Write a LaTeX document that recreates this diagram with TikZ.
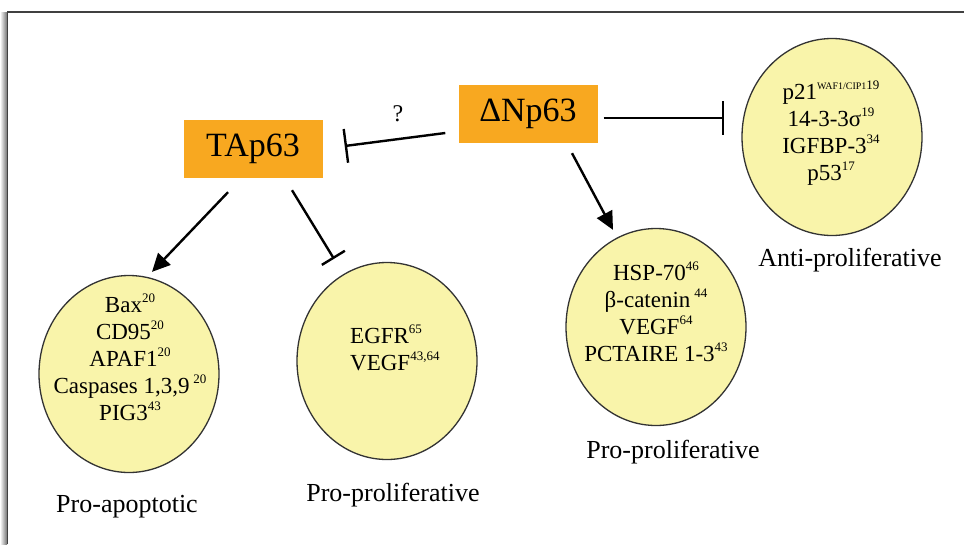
\documentclass[tikz,border=0pt]{standalone}
\usepackage{fontspec}
\setmainfont{Liberation Serif}
\usetikzlibrary{
    positioning,
    shapes.geometric,
    arrows.meta
    }
\definecolor{boxorange}{RGB}{248,168,32}
\definecolor{setyellow}{RGB}{249,244,170}
\newcommand{\supref}[1]{\raisebox{0.95ex}{\fontsize{13}{13}\selectfont #1}}

\begin{document}
\begin{tikzpicture}[x=1pt, y=-1pt]
\tikzset{isoform/.style =
        {
            rectangle,
            fill=boxorange,
            minimum width=139pt,
            minimum height=58pt,
            inner sep=0pt,
            font=\fontsize{34}{34}\selectfont
        }
}

\tikzset{geneset/.style =
        {
            ellipse,
            draw=black!80,
            line width=1.3pt,
            fill=setyellow,
            minimum width=180pt,
            minimum height=197pt,
            inner sep=0pt
        }
}

\tikzset{genelist/.style =
        {
            align=center,
            inner sep=0pt,
            font=\fontsize{23}{27}\selectfont
        }
}

\tikzset{caption/.style =
        {
            inner sep=0pt,
            font=\fontsize{26}{26}\selectfont
        }
}

\tikzset{activate/.style = {
            line width=2.4pt,
            -{Triangle[length=18pt, width=17pt]}
        }
}

\tikzset{inhibit/.style = {
            line width=2.4pt,
            -{Bar[width=34pt]}
        }
}
		\useasboundingbox (0,0) rectangle (964,544);

		% frame
		\shade[left color=white, right color=black!55] (0,12) rectangle (7,544);
		\draw[line width=1.5pt, black!75] (7.5,544) |- (964,12);

		\node[isoform] (tap) at (253,149) {TAp63};
		\node[isoform] (dnp) at (528,114) {ΔNp63};

		\foreach \name / \x / \y in
			{apo/129/374,
				mid/387/361,
				pro/656/327,
				anti/832/137}
		\node[geneset] (\name) at (\x,\y) {};

		\node[genelist] (list-apo) at (130,357)
			{Bax\supref{20}\\CD95\supref{20}\\APAF1\supref{20}\\Caspases 1,3,9\,\supref{20}\\PIG3\supref{43}};
		\node[genelist, align=left, anchor=west] (list-mid) at (350,348)
			{EGFR\supref{65}\\VEGF\supref{43,64}};
		\node[genelist] (list-pro) at (656,312)
			{HSP-70\supref{46}\\β-catenin\,\supref{44}\\VEGF\supref{64}\\PCTAIRE 1-3\supref{43}};
		\node[genelist] (list-anti) at (831,133)
			{p21\supref{{\fontsize{10}{10}\selectfont WAF1/CIP1}19}\\14-3-3σ\supref{19}\\IGFBP-3\supref{34}\\p53\supref{17}};

		\foreach \name / \x / \y / \txt in
			{apo/127/507/Pro-apoptotic,
				mid/393/495/Pro-proliferative,
				pro/673/452/Pro-proliferative,
				anti/850/260/Anti-proliferative}
		\node[caption] (cap-\name) at (\x,\y) {\txt};

		\node[font=\fontsize{24}{24}\selectfont] (qmark) at (398,114) {?};

		\draw[activate] ([xshift=-25pt, yshift=-14pt]tap.south) -- ([xshift=23pt, yshift=3pt]apo.north);
		\draw[inhibit, -{Bar[width=27pt]}] ([xshift=39pt, yshift=-12pt]tap.south) -- ([xshift=-53pt, yshift=3pt]mid.north);
		\draw[inhibit] ([xshift=-13pt, yshift=-19pt]dnp.west) -- ([xshift=22pt, yshift=3pt]tap.east);
		\draw[inhibit] ([xshift=6pt, yshift=-4pt]dnp.east) -- ([xshift=-17pt, yshift=19pt]anti.west);
		\draw[activate] ([xshift=44pt, yshift=-10pt]dnp.south) -- ([xshift=-43pt, yshift=-2pt]pro.north);

	\end{tikzpicture}
\end{document}
